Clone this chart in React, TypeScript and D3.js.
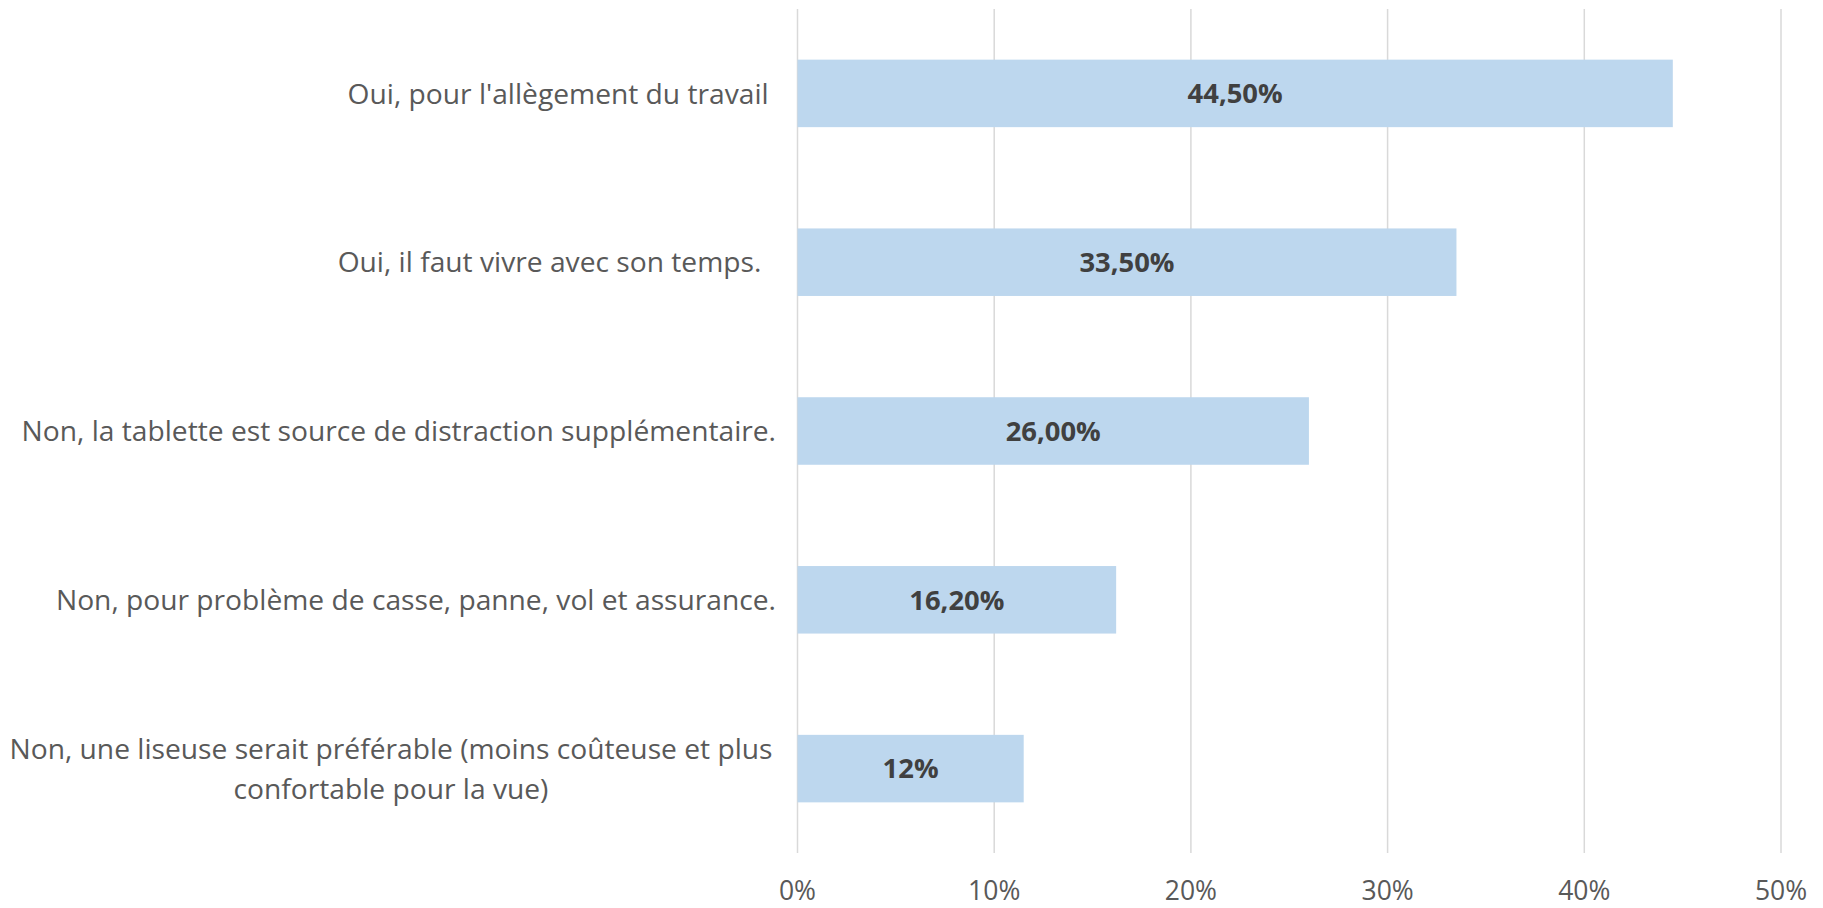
import React from "react";
import * as d3 from "d3";

const categories: string[][] = [
  ["Oui, pour l'allègement du travail "],
  ["Oui, il faut vivre avec son temps.  "],
  ["Non, la tablette est source de distraction supplémentaire."],
  ["Non, pour problème de casse, panne, vol et assurance."],
  ["Non, une liseuse serait préférable (moins coûteuse et plus", "confortable pour la vue)"],
];
const values: number[] = [44.5, 33.5, 26.0, 16.2, 11.5];
const valueLabels: string[] = ["44,50%", "33,50%", "26,00%", "16,20%", "12%"];
const ticks: number[] = [0, 10, 20, 30, 40, 50];
const tickLabels: string[] = ["0%", "10%", "20%", "30%", "40%", "50%"];

const W = 1823;
const H = 908;
const FONT = "'Open Sans', sans-serif";

export default function App() {
  const x = d3.scaleLinear().domain([0, 50]).range([797.5, 1781]);
  const y = d3
    .scaleBand<number>()
    .domain(d3.range(categories.length))
    .range([9, 853])
    .paddingInner(0.6)
    .paddingOuter(0.3);

  return (
    <svg
      width={W}
      height={H}
      style={{ position: "absolute", left: 0, top: 0, display: "block", background: "#fff" }}
    >
      {ticks.map((t, i) => (
        <g key={i}>
          <line x1={x(t)} x2={x(t)} y1={9} y2={853} stroke="#D9D9D9" strokeWidth={1.5} />
          <text
            x={x(t)}
            y={900}
            textAnchor="middle"
            fontFamily={FONT}
            fontSize={26.5}
            fill="#595959"
          >
            {tickLabels[i]}
          </text>
        </g>
      ))}
      {values.map((v, i) => {
        const y0 = y(i)!;
        const bh = y.bandwidth();
        const cy = y0 + bh / 2;
        return (
          <g key={i}>
            <rect x={x(0)} y={y0} width={x(v) - x(0)} height={bh} fill="#BDD7EE" />
            <text
              x={(x(0) + x(v)) / 2}
              y={cy}
              dy="0.36em"
              textAnchor="middle"
              fontFamily={FONT}
              fontWeight="bold"
              fontSize={27.4}
              fill="#404040"
            >
              {valueLabels[i]}
            </text>
          </g>
        );
      })}
      {categories.map((lines, i) => {
        const cy = y(i)! + y.bandwidth() / 2;
        const lh = 39.5;
        const x0 = lines.length > 1 ? 391 : 776;
        return (
          <text
            key={i}
            fontFamily={FONT}
            fontSize={28.2}
            fill="#595959"
            textAnchor={lines.length > 1 ? "middle" : "end"}
            style={{ whiteSpace: "pre" }}
          >
            {lines.map((l, j) => (
              <tspan key={j} x={x0} y={cy + (j - (lines.length - 1) / 2) * lh} dy="0.36em">
                {l}
              </tspan>
            ))}
          </text>
        );
      })}
    </svg>
  );
}
